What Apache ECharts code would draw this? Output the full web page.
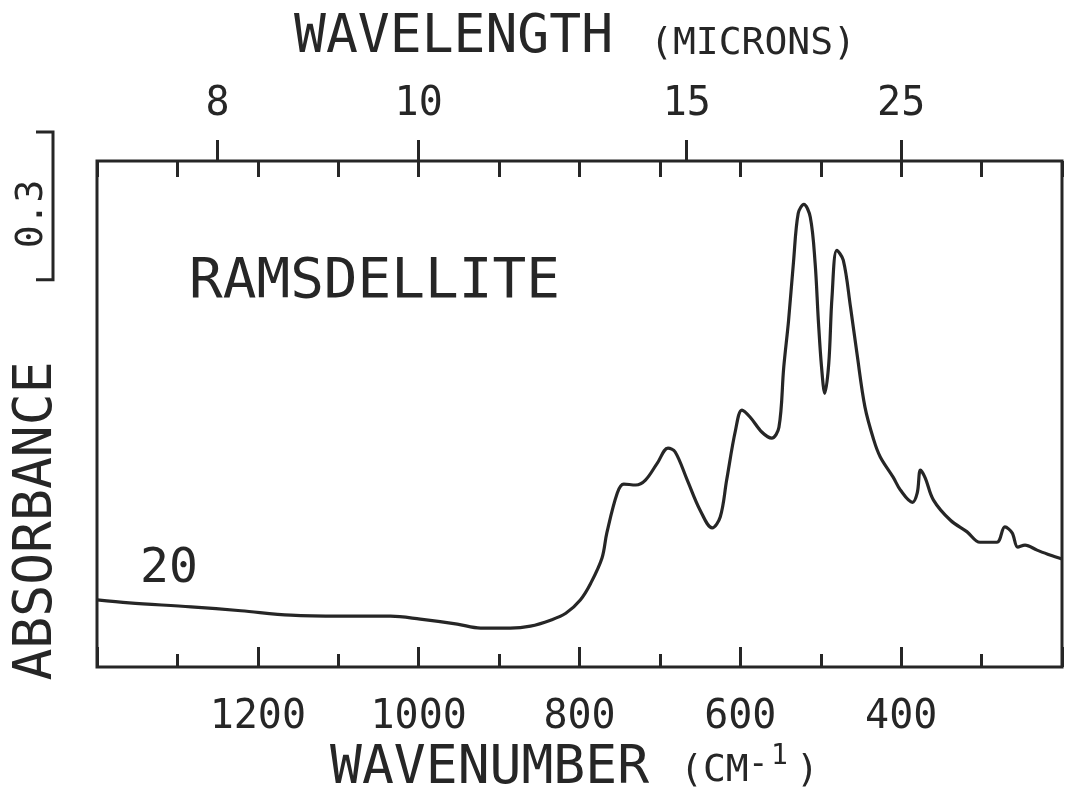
<!DOCTYPE html>
<html>
<head>
<meta charset="utf-8">
<script src="https://cdn.jsdelivr.net/npm/echarts@6/dist/echarts.min.js"></script>
<style>
  html, body { margin: 0; padding: 0; background: #ffffff; }
  #chart { width: 1067px; height: 806px; }
</style>
</head>
<body>
<div id="chart"></div>
<script>
// Infrared absorbance spectrum of ramsdellite (wavenumber in cm-1, absorbance)
const wavenumber = [1400, 1360, 1283, 1221, 1159, 1097, 1035, 998, 952, 923,
  886, 861, 836, 817, 799, 786, 772, 766, 753, 745,
  730, 718, 703, 690, 681, 666, 650, 635, 625, 617,
  606, 598, 588, 573, 561, 552, 546, 540, 534, 528,
  521, 513, 507, 503, 499, 495, 490, 486, 480, 472,
  463, 455, 445, 434, 426, 410, 401, 386, 380, 376,
  370, 360, 339, 318, 302, 281, 271, 262, 255, 246,
  231, 215, 200];
const absorbance = [0.136, 0.130, 0.122, 0.114, 0.105, 0.103, 0.103, 0.097, 0.087, 0.079,
  0.079, 0.083, 0.095, 0.109, 0.136, 0.170, 0.221, 0.272, 0.353, 0.371,
  0.369, 0.379, 0.414, 0.444, 0.436, 0.379, 0.318, 0.282, 0.304, 0.379,
  0.480, 0.521, 0.507, 0.476, 0.464, 0.486, 0.608, 0.703, 0.819, 0.920,
  0.938, 0.912, 0.819, 0.703, 0.608, 0.555, 0.616, 0.750, 0.845, 0.825,
  0.730, 0.636, 0.527, 0.460, 0.426, 0.385, 0.359, 0.334, 0.353, 0.399,
  0.383, 0.339, 0.298, 0.274, 0.253, 0.253, 0.284, 0.272, 0.243, 0.247,
  0.237, 0.227, 0.219];

// Top scale: wavelength in microns (converted to cm-1 for placement)
const wavelengthTicks = [8, 10, 15, 25];
// Absorbance scale bar
const scaleBarLength = 0.3;
const scaleBarBase = 0.785;

const INK = '#262626';
const FONT = '"DejaVu Sans Mono", monospace';

const chart = echarts.init(document.getElementById('chart'), null, { renderer: 'canvas' });

const seriesData = wavenumber.map((w, i) => [w, absorbance[i]]);

chart.setOption({
  backgroundColor: '#ffffff',
  animation: false,
  grid: {
    left: 97, right: 5, top: 161, bottom: 139,
    show: true, borderColor: INK, borderWidth: 3, backgroundColor: 'transparent'
  },
  xAxis: [
    {
      // wavenumber scale, bottom
      type: 'value', position: 'bottom', min: 200, max: 1400, interval: 200, inverse: true,
      axisLine: { show: false },
      splitLine: { show: false },
      axisTick: { show: true, inside: true, length: 20, lineStyle: { color: INK, width: 3 } },
      minorTick: { show: true, splitNumber: 2, length: 13, lineStyle: { color: INK, width: 3 } },
      axisLabel: {
        margin: 31, color: INK, fontFamily: FONT, fontSize: 40,
        formatter: v => (v === 200 || v === 1400) ? '' : String(v)
      }
    },
    {
      // inner ticks along the top edge, every 100 cm-1
      type: 'value', position: 'top', min: 200, max: 1400, interval: 100, inverse: true,
      axisLine: { show: false },
      splitLine: { show: false },
      axisTick: { show: true, inside: true, length: 16, lineStyle: { color: INK, width: 3 } },
      axisLabel: { show: false }
    },
    {
      // wavelength scale, top (microns)
      type: 'value', position: 'top', min: 200, max: 1400, inverse: true,
      axisLine: { show: false },
      splitLine: { show: false },
      axisTick: {
        show: true, inside: false, length: 21,
        customValues: wavelengthTicks.map(m => 10000 / m),
        lineStyle: { color: INK, width: 3 }
      },
      axisLabel: {
        show: true, margin: 36, color: INK, fontFamily: FONT, fontSize: 40,
        customValues: wavelengthTicks.map(m => 10000 / m),
        formatter: v => String(Math.round(10000 / v))
      }
    }
  ],
  yAxis: {
    type: 'value', min: 0, max: 1.026,
    axisLine: { show: false }, axisTick: { show: false },
    axisLabel: { show: false }, splitLine: { show: false }
  },
  series: [{
    type: 'line',
    xAxisIndex: 0,
    data: seriesData,
    smooth: 0.35,
    showSymbol: false,
    lineStyle: { color: INK, width: 3.2 }
  }]
});

// Scale bar and titles, placed once the axes are laid out
const yBase = chart.convertToPixel({ yAxisIndex: 0 }, scaleBarBase);
const yTop = chart.convertToPixel({ yAxisIndex: 0 }, scaleBarBase + scaleBarLength);
const barX = 53;

const textStyle = (text, size, extra) => Object.assign({
  text: text, fill: INK, font: 'normal ' + size + 'px ' + FONT
}, extra || {});

chart.setOption({
  graphic: [
    { type: 'polyline', shape: { points: [[36, yTop], [barX, yTop], [barX, yBase], [36, yBase]] },
      style: { stroke: INK, lineWidth: 3, fill: null } },
    { type: 'text', x: 32, y: 214, rotation: Math.PI / 2,
      style: textStyle('0.3', 38, { align: 'center', verticalAlign: 'middle' }) },
    { type: 'text', x: 37, y: 521, rotation: Math.PI / 2,
      style: textStyle('ABSORBANCE', 53, { align: 'center', verticalAlign: 'middle' }) },
    { type: 'text', x: 294, y: 38,
      style: textStyle('WAVELENGTH', 53, { align: 'left', verticalAlign: 'middle' }) },
    { type: 'text', x: 650, y: 44,
      style: textStyle('(MICRONS)', 38, { align: 'left', verticalAlign: 'middle' }) },
    { type: 'text', x: 189, y: 282,
      style: textStyle('RAMSDELLITE', 56, { align: 'left', verticalAlign: 'middle' }) },
    { type: 'text', x: 140, y: 570,
      style: textStyle('20', 48, { align: 'left', verticalAlign: 'middle' }) },
    { type: 'text', x: 330, y: 769,
      style: textStyle('WAVENUMBER', 53, { align: 'left', verticalAlign: 'middle' }) },
    { type: 'text', x: 680, y: 771,
      style: textStyle('(CM', 38, { align: 'left', verticalAlign: 'middle' }) },
    { type: 'text', x: 748, y: 765,
      style: textStyle('-', 34, { align: 'left', verticalAlign: 'middle' }) },
    { type: 'text', x: 771, y: 757,
      style: textStyle('1', 28, { align: 'left', verticalAlign: 'middle' }) },
    { type: 'text', x: 796, y: 771,
      style: textStyle(')', 38, { align: 'left', verticalAlign: 'middle' }) }
  ]
});
</script>
</body>
</html>
